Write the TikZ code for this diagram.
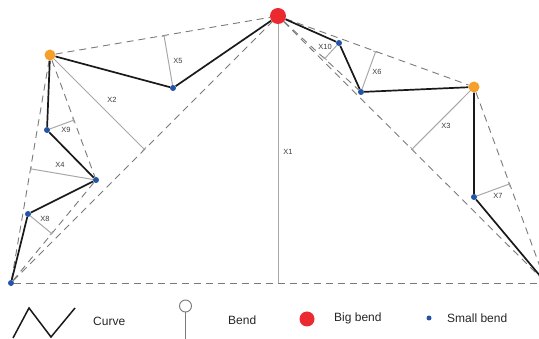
\documentclass[tikz,border=0pt]{standalone}
\usepackage{fontspec}
\setmainfont{Liberation Sans}
\usepackage{tikz}
\usetikzlibrary{arrows.meta,backgrounds,calc,positioning}
\definecolor{bndRed}{HTML}{EA2A2E}
\definecolor{bndOrange}{HTML}{F4A02A}
\definecolor{bndBlue}{HTML}{2553A6}
\definecolor{bndDash}{HTML}{7A7A7A}
\definecolor{bndPerp}{HTML}{A8A8A8}
\definecolor{bndText}{HTML}{3C3C3C}
\tikzset{
  bndbig/.style={circle,fill=bndRed,minimum size=16pt,inner sep=0pt},
  bndmid/.style={circle,fill=bndOrange,minimum size=11pt,inner sep=0pt},
  bndsmall/.style={circle,fill=bndBlue,minimum size=6pt,inner sep=0pt},
  bndopen/.style={circle,draw=bndDash,fill=white,line width=0.9pt,
                  minimum size=12pt,inner sep=0pt},
  bndcurve/.style={line width=1.7pt,black!90},
  bnddash/.style={bndDash,line width=0.9pt,dash pattern=on 7pt off 5pt},
  bndperp/.style={bndPerp,line width=1pt,-{Bar[width=5pt,line width=1pt]}},
  bndlabel/.style={font=\fontsize{7.5}{8}\selectfont,text=bndText,inner sep=1pt},
  bndlegend/.style={font=\fontsize{12}{14}\selectfont,text=black!85,anchor=west,inner sep=0pt}
}
\begin{document}
\begin{tikzpicture}[x=1pt,y=-1pt]
  \useasboundingbox (0,0) rectangle (539,339);
  % bends on the curve
  \node[bndbig] (R) at (278,16) {};
  \node[bndmid] (L) at (50,55) {};
  \node[bndmid] (O) at (474,87) {};
  \node[bndsmall] (A) at (11,283) {};
  \node[bndsmall] (s1) at (173,88) {};
  \node[bndsmall] (s2) at (47,130) {};
  \node[bndsmall] (s3) at (96,180) {};
  \node[bndsmall] (s4) at (28,214) {};
  \node[bndsmall] (s5) at (339,43) {};
  \node[bndsmall] (s6) at (361,92) {};
  \node[bndsmall] (s7) at (474,197) {};
  \coordinate (B) at (546,283);
  \coordinate (base) at (278,283);

  % feet of the perpendiculars
  \coordinate (f2) at ($(A)!(L)!(R)$);
  \coordinate (f3) at ($(R)!(O)!(B)$);
  \coordinate (f4) at ($(A)!(s3)!(L)$);
  \coordinate (f5) at ($(L)!(s1)!(R)$);
  \coordinate (f6) at ($(R)!(s6)!(O)$);
  \coordinate (f7) at ($(O)!(s7)!(B)$);
  \coordinate (f8) at ($(A)!(s4)!(s3)$);
  \coordinate (f9) at ($(s3)!(s2)!(L)$);
  \coordinate (f10) at ($(R)!(s5)!(s6)$);

  \begin{scope}[on background layer]
    \draw[bnddash] (A) -- (B);
    \draw[bnddash] (A) -- (R);
    \draw[bnddash] (L) -- (R);
    \draw[bnddash] (A) -- (L);
    \draw[bnddash] (L) -- (s3);
    \draw[bnddash] (A) -- (s3);
    \draw[bnddash] (R) -- (O);
    \draw[bnddash] (R) -- (B);
    \draw[bnddash] (R) -- (s6);
    \draw[bnddash] (O) -- (B);

    \draw[bndPerp,line width=1pt] (R) -- (base);
    \draw[bndperp] (L) -- (f2);
    \draw[bndperp] (O) -- (f3);
    \draw[bndperp] (s3) -- (f4);
    \draw[bndperp] (s1) -- (f5);
    \draw[bndperp] (s6) -- (f6);
    \draw[bndperp] (s7) -- (f7);
    \draw[bndperp] (s4) -- (f8);
    \draw[bndperp] (s2) -- (f9);
    \draw[bndperp] (s5) -- (f10);

    \draw[bndcurve] (A) -- (s4) -- (s3) -- (s2) -- (L) -- (s1) -- (R)
      -- (s5) -- (s6) -- (O) -- (s7) -- (B);
  \end{scope}

  \node[bndlabel] (x1) at (288,152) {X1};
  \node[bndlabel] (x2) at (112,100) {X2};
  \node[bndlabel] (x3) at (446,126) {X3};
  \node[bndlabel] (x4) at (60,165) {X4};
  \node[bndlabel] (x5) at (178,61) {X5};
  \node[bndlabel] (x6) at (377,72) {X6};
  \node[bndlabel] (x7) at (498,196) {X7};
  \node[bndlabel] (x8) at (45,219) {X8};
  \node[bndlabel] (x9) at (66,130) {X9};
  \node[bndlabel] (x10) at (325,47) {X10};

  % legend
  \draw[bndcurve,line width=1.5pt] (13,338) -- (29,308) -- (51,337) -- (75,308);
  \node[bndlegend] (tCurve) at (93,321) {Curve};
  \node[bndopen] (kBend) at (185.5,306) {};
  \coordinate (kStem) at (185.5,339);
  \draw[bndDash,line width=0.9pt] (kBend) -- (kStem);
  \node[bndlegend] (tBend) at (228,320) {Bend};
  \node[bndbig,minimum size=15pt] (kBig) at (307,319) {};
  \node[bndlegend] (tBig) at (334,318) {Big bend};
  \node[bndsmall,minimum size=5pt] (kSmall) at (429,318) {};
  \node[bndlegend] (tSmall) at (447,318) {Small bend};
\end{tikzpicture}
\end{document}
